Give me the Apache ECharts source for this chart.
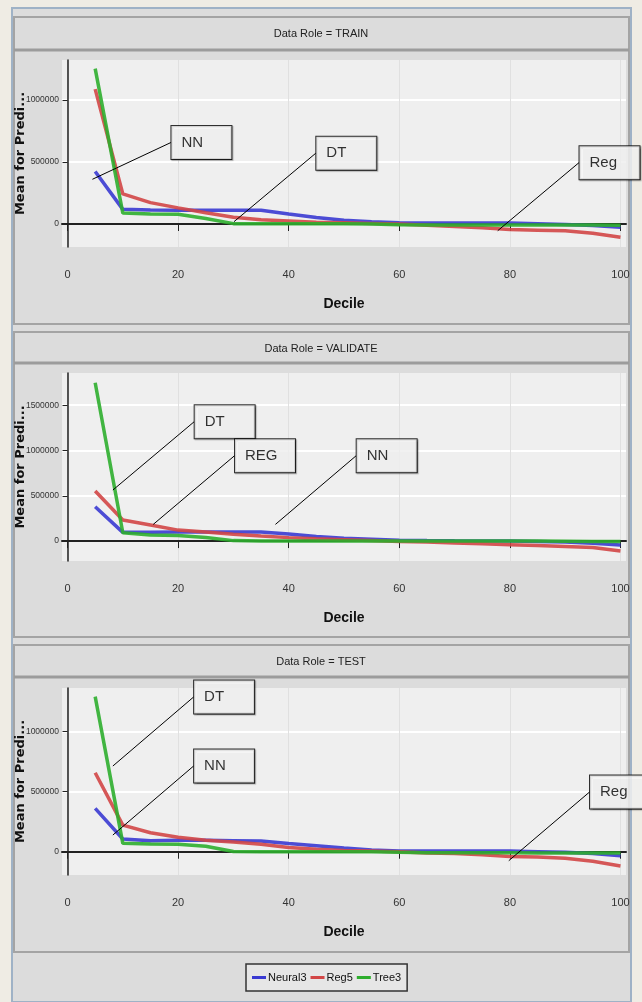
<!DOCTYPE html>
<html>
<head>
<meta charset="utf-8">
<script src="https://cdn.jsdelivr.net/npm/echarts@6/dist/echarts.min.js"></script>
<style>
html,body{margin:0;padding:0;background:#efece4;}
#c{width:642px;height:1002px;}
</style>
</head>
<body>
<div id="c"></div>
<script>
// ---------- data ----------
const deciles = [5,10,15,20,25,30,35,40,45,50,55,60,65,70,75,80,85,90,95,100];
const seriesNames = ['Neural3','Reg5','Tree3'];
const xTicks = [0,20,40,60,80,100];

const trainNeural = [422000,118000,112000,110000,110000,110000,110000,80000,52000,30000,18000,10000,8000,8000,8000,8000,3000,-3000,-12000,-27000];
const trainReg    = [1086000,242000,172000,130000,90000,55000,35000,25000,15000,10000,5000,0,-10000,-20000,-30000,-45000,-50000,-55000,-75000,-107000];
const trainTree   = [1250000,88000,80000,78000,45000,3000,3000,3000,3000,2000,0,-5000,-8000,-8000,-8000,-8000,-8000,-8000,-8000,-10000];

const validNeural = [379000,96000,98000,100000,100000,100000,100000,78000,50000,30000,20000,8000,5000,3000,2000,0,-5000,-10000,-25000,-44000];
const validReg    = [552000,232000,177000,121000,100000,75000,55000,38000,25000,15000,5000,-5000,-10000,-20000,-30000,-40000,-50000,-60000,-70000,-110000];
const validTree   = [1747000,92000,66000,62000,40000,5000,2000,2000,2000,2000,1000,0,0,0,0,0,0,-2000,-4000,-5000];

const testNeural  = [361000,106000,92000,95000,95000,92000,89000,68000,50000,30000,15000,5000,5000,5000,5000,5000,0,-5000,-15000,-33000];
const testReg     = [658000,222000,158000,120000,95000,80000,62000,35000,20000,10000,5000,0,-10000,-15000,-25000,-40000,-45000,-55000,-80000,-119000];
const testTree    = [1292000,70000,65000,63000,45000,2000,0,0,0,0,0,-5000,-8000,-8000,-8000,-9000,-10000,-10000,-10000,-11000];

const trainYTicks = [0,500000,1000000];
const validYTicks = [0,500000,1000000,1500000];
const testYTicks  = [0,500000,1000000];

// annotation callouts (data space: leader start -> box anchor)
const trainNotes = [
  {text:'NN',  from:[4.5,360000],  to:[18.7,656000]},
  {text:'DT',  from:[30.1,18500],  to:[44.9,570000]},
  {text:'Reg', from:[77.8,-54000], to:[92.5,494000]}
];
const validNotes = [
  {text:'DT',  from:[8.2,563000],  to:[22.9,1317000]},
  {text:'REG', from:[15.5,184000], to:[30.2,942000]},
  {text:'NN',  from:[37.6,184000], to:[52.2,942000]}
];
const testNotes = [
  {text:'DT',  from:[8.2,714000],  to:[22.8,1289000]},
  {text:'NN',  from:[8.2,139000],  to:[22.8,714000]},
  {text:'Reg', from:[79.8,-75000], to:[94.4,497000]}
];

// ---------- layout / style ----------
const NARROW = "'Liberation Sans Narrow','Liberation Sans',Arial,sans-serif";
const colors = ['#3a3ad2','#d24646','#2eae2e'];
const panels = [
  {title:'Data Role = TRAIN',    top:60,  h:187, ymin:-185000, ymax:1320000, yt:trainYTicks, ys:[trainNeural,trainReg,trainTree], notes:trainNotes, box:[17,324], head:50},
  {title:'Data Role = VALIDATE', top:373, h:188, ymin:-220000, ymax:1855000, yt:validYTicks, ys:[validNeural,validReg,validTree], notes:validNotes, box:[332,637], head:363},
  {title:'Data Role = TEST',     top:688, h:187, ymin:-194000, ymax:1364000, yt:testYTicks,  ys:[testNeural,testReg,testTree],    notes:testNotes,  box:[645,952], head:677}
];

const grids=[], xAxes=[], yAxes=[], series=[], titles=[], graphics=[];

// page frame
graphics.push({type:'rect', shape:{x:12,y:8,width:619,height:994}, style:{fill:'#dcdcdc', stroke:'#9fb2c6', lineWidth:2}, z:-10});

panels.forEach((p,i)=>{
  graphics.push({type:'rect', shape:{x:14,y:p.box[0],width:615,height:p.box[1]-p.box[0]}, style:{fill:'#dcdcdc', stroke:'#a4a4a4', lineWidth:2}, z:-9});
  graphics.push({type:'line', shape:{x1:14,y1:p.head,x2:629,y2:p.head}, style:{stroke:'#9c9c9c', lineWidth:3}, z:-8});
  titles.push({text:p.title, left:'center', top:p.box[0]+11, padding:0,
    textStyle:{fontFamily:NARROW, fontSize:11, fontWeight:'normal', color:'#222'}});
  grids.push({left:62, top:p.top, width:564, height:p.h, show:true, backgroundColor:'#efefef', borderWidth:0,
    containLabel:false, outerBoundsMode:'none'});
  xAxes.push({type:'value', gridIndex:i, min:-1, max:101,
    name:'Decile', nameLocation:'middle', nameGap:50, nameMoveOverlap:false,
    nameTextStyle:{fontFamily:NARROW, fontSize:14, fontWeight:'bold', color:'#111'},
    axisLine:{lineStyle:{color:'#222', width:2}},
    axisTick:{show:true, length:7, lineStyle:{color:'#222'}, customValues:xTicks},
    axisLabel:{customValues:xTicks, margin:22, fontFamily:NARROW, fontSize:11, color:'#333'},
    splitLine:{show:true, lineStyle:{color:'#e0e0e0', width:1}}
  });
  yAxes.push({type:'value', gridIndex:i, min:p.ymin, max:p.ymax,
    name:'Mean for Predi...', nameLocation:'middle', nameGap:35, nameRotate:90, nameMoveOverlap:false,
    nameTextStyle:{fontFamily:"'DejaVu Sans',sans-serif", fontSize:13, fontWeight:'bold', color:'#111'},
    axisLine:{show:true, lineStyle:{color:'#222', width:1.5}},
    axisTick:{show:true, length:5, lineStyle:{color:'#222'}, customValues:p.yt},
    axisLabel:{customValues:p.yt, margin:3, fontFamily:NARROW, fontSize:8.5, color:'#333', formatter:v=>String(v)},
    splitLine:{show:true, lineStyle:{color:'#ffffff', width:2}}
  });
  p.ys.forEach((ys,k)=>{
    series.push({type:'line', name:seriesNames[k], xAxisIndex:i, yAxisIndex:i,
      data:deciles.map((x,j)=>[x,ys[j]]), symbol:'none', silent:true, z:2,
      lineStyle:{color:colors[k], width:3.5, opacity:0.9}, itemStyle:{color:colors[k]}});
  });
  p.notes.forEach(n=>{
    series.push({type:'line', name:'note', xAxisIndex:i, yAxisIndex:i, data:[n.from,n.to],
      symbol:'none', silent:true, z:5, lineStyle:{color:'#000', width:1}});
    series.push({type:'scatter', name:'notebox', xAxisIndex:i, yAxisIndex:i, data:[n.to],
      symbolSize:1, itemStyle:{color:'rgba(0,0,0,0)'}, silent:true, z:6,
      label:{show:true, formatter:n.text, position:'right', distance:0,
        fontFamily:"'Liberation Sans',Arial,sans-serif", fontSize:15, color:'#000',
        backgroundColor:'#fff', borderColor:'#000', borderWidth:1, padding:[9,10,9,10], width:40,
        shadowColor:'rgba(0,0,0,0.35)', shadowOffsetX:1, shadowOffsetY:1, shadowBlur:1}});
  });
});

const chart = echarts.init(document.getElementById('c'), null, {renderer:'canvas'});
chart.setOption({
  animation:false,
  backgroundColor:'transparent',
  title:titles,
  graphic:graphics,
  grid:grids, xAxis:xAxes, yAxis:yAxes,
  legend:{data:seriesNames, left:246, top:964, icon:'rect', itemWidth:14, itemHeight:3, itemGap:4,
    backgroundColor:'#e6e6e6', borderColor:'#333', borderWidth:1.5, padding:[8,6],
    textStyle:{fontFamily:NARROW, fontSize:11, color:'#111', padding:[0,0,0,-3]}},
  series:series
});
</script>
</body>
</html>
